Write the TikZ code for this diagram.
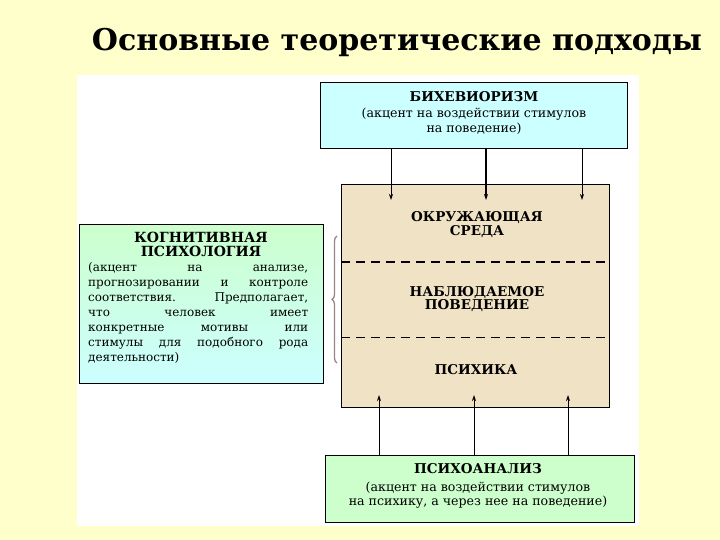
\documentclass[tikz,border=0pt]{standalone}
\usepackage{fontspec}
\setmainfont{DejaVu Serif}
\newfontfamily\titlefont{DejaVu Serif}
\usetikzlibrary{decorations.pathreplacing,arrows.meta}
\definecolor{bgyellow}{RGB}{255,255,204}
\definecolor{behblue}{RGB}{204,255,255}
\definecolor{psygreen}{RGB}{204,255,204}
\definecolor{cogtop}{RGB}{204,255,204}
\definecolor{cogbot}{RGB}{204,255,255}
\definecolor{beige}{RGB}{240,226,196}
\definecolor{bracegray}{RGB}{150,135,130}
\tikzset{
  box/.style={draw=black, line width=1.3pt, inner sep=0pt, anchor=north west},
  head/.style={font=\bfseries\fontsize{13.5}{15}\selectfont, inner sep=0pt, align=center},
  small/.style={font=\fontsize{12.6}{14.5}\selectfont, inner sep=0pt, align=center},
  cline/.style={font=\fontsize{12}{12}\selectfont, inner sep=0pt, anchor=base west},
  arr/.style={-{Stealth[length=6pt,width=4pt]}, line width=0.9pt},
}
\begin{document}
\begin{tikzpicture}[x=1pt,y=-1pt]
\fill[bgyellow] (0,0) rectangle (720,540);
\useasboundingbox (0,0) rectangle (720,540);
\fill[white] (77,75) rectangle (639,526);
% title
\node[font=\titlefont\bfseries\fontsize{30}{34}\selectfont, inner sep=0pt] (title) at (397,42) {Основные теоретические подходы};
% behaviorism
\node[box, fill=behblue, minimum width=307pt, minimum height=66pt] (beh) at (320,82) {};
\node[head] (behh) at (474,97) {БИХЕВИОРИЗМ};
\node[small] (behs) at (474,121) {(акцент на воздействии стимулов\\на поведение)};
% central
\node[box, fill=beige, minimum width=268pt, minimum height=223pt] (env) at (341,184) {};
\draw[dashed, dash pattern=on 9pt off 6pt, line width=1.2pt] (env.west |- 0,262) -- (env.east |- 0,262);
\draw[dashed, dash pattern=on 9pt off 6pt, line width=0.9pt] (env.west |- 0,337) -- (env.east |- 0,337);
\node[head, font=\bfseries\fontsize{13.5}{14}\selectfont] (sreda) at (477,225) {ОКРУЖАЮЩАЯ\\СРЕДА};
\node[head, font=\bfseries\fontsize{13.5}{13}\selectfont] (beh2) at (477,299) {НАБЛЮДАЕМОЕ\\ПОВЕДЕНИЕ};
\node[head, font=\bfseries\fontsize{13.5}{13}\selectfont] (psih) at (476,370) {ПСИХИКА};
% psychoanalysis
\node[box, fill=psygreen, minimum width=309pt, minimum height=67pt] (psy) at (325,455) {};
\node[head] (psyh) at (478,469) {ПСИХОАНАЛИЗ};
\node[small] (psys) at (478,495) {(акцент на воздействии стимулов\\на психику, а через нее на поведение)};
% cognitive
\node[box, top color=cogtop, bottom color=cogbot, minimum width=244pt, minimum height=159pt] (cog) at (79,224) {};
\node[head, font=\bfseries\fontsize{14}{14}\selectfont] (cogh) at (201,244) {КОГНИТИВНАЯ\\ПСИХОЛОГИЯ};
\node[cline] (c1) at (88,271) {\makebox[220pt][s]{(акцент на анализе,}};
\node[cline] (c2) at (88,286) {\makebox[220pt][s]{прогнозировании и контроле}};
\node[cline] (c3) at (88,301) {\makebox[220pt][s]{соответствия. Предполагает,}};
\node[cline] (c4) at (88,316) {\makebox[220pt][s]{что человек имеет}};
\node[cline] (c5) at (88,331) {\makebox[220pt][s]{конкретные мотивы или}};
\node[cline] (c6) at (88,346) {\makebox[220pt][s]{стимулы для подобного рода}};
\node[cline] (c7) at (88,361) {деятельности)};
% brace
\coordinate (bb) at (337,363);
\coordinate (bt) at (337,236);
\draw[bracegray, line width=1.3pt, decorate, decoration={brace, amplitude=5pt}] (bb) -- (bt);
% arrows from behaviorism
\coordinate (t1) at (391,200);
\coordinate (t2) at (486,200);
\coordinate (t3) at (582,200);
\draw[arr] (t1 |- beh.south) -- (t1);
\draw[arr, line width=1.3pt] (t2 |- beh.south) -- (t2);
\draw[arr] (t3 |- beh.south) -- (t3);
% arrows from psychoanalysis
\coordinate (b1) at (379,395);
\coordinate (b2) at (474,395);
\coordinate (b3) at (568,395);
\draw[arr] (b1 |- psy.north) -- (b1);
\draw[arr] (b2 |- psy.north) -- (b2);
\draw[arr] (b3 |- psy.north) -- (b3);
\end{tikzpicture}
\end{document}
